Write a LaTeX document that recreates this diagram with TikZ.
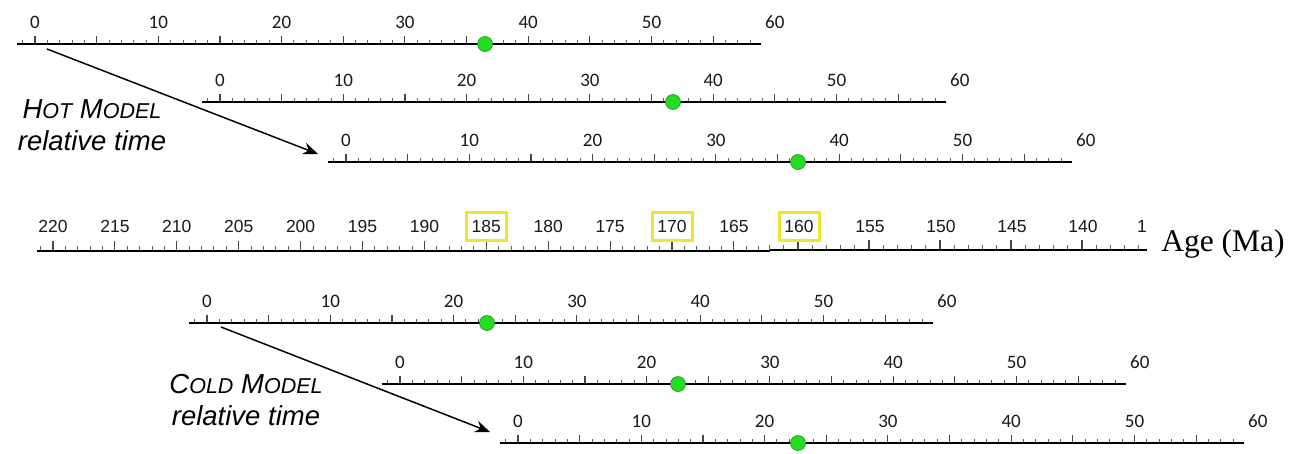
\documentclass[tikz,border=0pt]{standalone}
\usepackage{fontspec}
\setmainfont{Liberation Serif}
\newfontfamily\calfont{Carlito}
\newfontfamily\arfont{Liberation Sans}
\usetikzlibrary{arrows.meta}
\definecolor{dotgreen}{RGB}{34,221,34}
\definecolor{dotedge}{RGB}{30,140,30}
\definecolor{hlyellow}{RGB}{240,228,50}
\newcommand\mysc[1]{{\fontsize{21.5}{25}\selectfont #1}}
\tikzset{
  axisline/.style={draw=black, line width=1.5pt},
  majtick/.style={draw=black!72, line width=1.1pt},
  mintick/.style={draw=black!62, line width=0.9pt},
  rellab/.style={font=\calfont\fontsize{19}{21}\selectfont, inner sep=0pt, text=black!90},
  agelab/.style={font=\arfont\fontsize{17.5}{19}\selectfont, inner sep=0pt, text=black!90},
  hl/.style={draw=hlyellow, line width=3pt, minimum width=40pt, minimum height=28pt},
  agebox/.code={\ifnum#1=185 \pgfkeysalso{hl}\fi\ifnum#1=170 \pgfkeysalso{hl}\fi\ifnum#1=160 \pgfkeysalso{hl}\fi},
  gdot/.style={circle, fill=dotgreen, draw=dotedge, line width=0.6pt, minimum size=15pt, inner sep=0pt},
  modellab/.style={font=\arfont\itshape\fontsize{27.5}{32}\selectfont, align=center, inner sep=0pt, anchor=north},
  timearrow/.style={draw=black, line width=1.5pt, -{Stealth[length=15pt,width=12pt,inset=5pt]}},
  agetitle/.style={font=\fontsize{31.5}{34}\selectfont, inner sep=0pt}
}
% #1 name, #2 x of 0 tick, #3 y of axis, #4 x of dot
\newcommand\relruler[4]{%
  \coordinate (#1s) at ({#2-18},#3);
  \coordinate (#1e) at ({#2+726},#3);
  \foreach \i in {-1,...,58}{%
    \pgfmathtruncatemacro\mm{mod(\i+100,5)}%
    \ifnum\mm=0
      \draw[majtick] ({#2+\i*12.33},#3) -- ++(0,-8.5);
    \else
      \draw[mintick] ({#2+\i*12.33},#3) -- ++(0,-4);
    \fi
  }
  \draw[axisline] (#1s) -- (#1e);
  \foreach \v in {0,10,...,60}{%
    \node[rellab] (#1l\v) at ({#2+\v*12.33},{#3-22}) {\v};
  }
  \node[gdot] (#1dot) at (#4,#3) {};
}
\begin{document}
\begin{tikzpicture}[x=1pt,y=-1pt]
\useasboundingbox[fill=white] (0,0) rectangle (1300,453);

% hot model rulers
\relruler{ra}{35}{44}{485}
\relruler{rb}{220}{102}{673}
\relruler{rc}{346}{162}{798}

% age axis
\coordinate (ageL) at (37,251);
\coordinate (ageM) at (770,251);
\coordinate (ageM2) at (770,250);
\coordinate (ageR) at (1147,250);
\foreach \a in {163,...,221}{%
  \pgfmathtruncatemacro\mm{mod(\a,5)}%
  \ifnum\mm=0
    \draw[majtick] ({53+(220-\a)*12.38},251) -- ++(0,-10);
  \else
    \draw[mintick] ({53+(220-\a)*12.38},251) -- ++(0,-5);
  \fi
}
\foreach \a in {136,...,162}{%
  \pgfmathtruncatemacro\mm{mod(\a,5)}%
  \ifnum\mm=0
    \draw[majtick] ({798+(160-\a)*14.2},250) -- ++(0,-10);
  \else
    \draw[mintick] ({798+(160-\a)*14.2},250) -- ++(0,-5);
  \fi
}
\draw[axisline] (ageL) -- (ageM);
\draw[axisline] (ageM2) -- (ageR);
\foreach \a in {220,215,...,165}{%
  \node[agelab, agebox=\a] (age\a) at ({53+(220-\a)*12.38},226.5) {\a};
}
\foreach \a in {160,155,...,140}{%
  \node[agelab, agebox=\a] (age\a) at ({799+(160-\a)*14.2},226.5) {\a};
}
\node[agelab] (age135) at (1142,226.5) {1};
\node[agetitle] (agetitle) at (1223,244) {Age (Ma)};

% cold model rulers
\relruler{rd}{207}{323}{487}
\relruler{re}{400}{384}{678}
\relruler{rf}{518}{443}{798}

% labels and arrows
\node[modellab] (hotlab) at (92,99) {H\mysc{OT} M\mysc{ODEL}\\relative time};
\node[modellab] (coldlab) at (246,374) {C\mysc{OLD} M\mysc{ODEL}\\relative time};
\coordinate (hotA) at (47,49);
\coordinate (hotB) at (318,154);
\coordinate (coldA) at (221,327);
\coordinate (coldB) at (490,432);
\draw[timearrow] (hotA) -- (hotB);
\draw[timearrow] (coldA) -- (coldB);
\end{tikzpicture}
\end{document}
